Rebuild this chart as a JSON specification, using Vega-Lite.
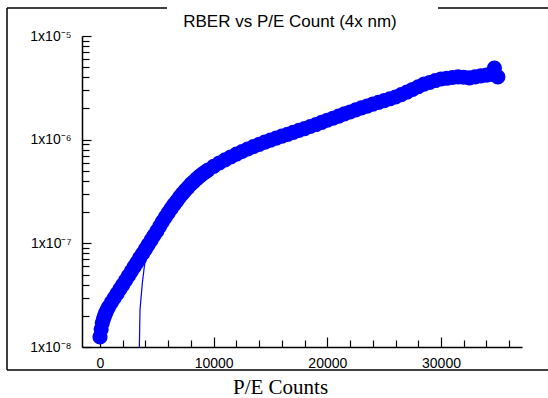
{
  "$schema": "https://vega.github.io/schema/vega-lite/v6.json",
  "autosize": {"type": "none"},
  "padding": {"left": 82, "top": 36, "right": 26, "bottom": 51},
  "width": 440,
  "height": 311,
  "background": "white",
  "config": {"view": {"stroke": null}},
  "title": {
    "text": "RBER vs P/E Count (4x nm)",
    "font": "Liberation Sans",
    "fontSize": 17,
    "fontWeight": "normal",
    "color": "black",
    "anchor": "middle",
    "frame": "group",
    "baseline": "alphabetic",
    "offset": -37,
    "dx": -12
  },
  "resolve": {"axis": {"x": "independent", "y": "independent"}},
  "datasets": {
    "rber": [
      {"cycles": 0, "rber": 1.25e-8},
      {"cycles": 100, "rber": 1.48e-8},
      {"cycles": 200, "rber": 1.70e-8},
      {"cycles": 300, "rber": 1.86e-8},
      {"cycles": 400, "rber": 2.00e-8},
      {"cycles": 500, "rber": 2.14e-8},
      {"cycles": 600, "rber": 2.26e-8},
      {"cycles": 750, "rber": 2.43e-8},
      {"cycles": 1000, "rber": 2.69e-8},
      {"cycles": 1250, "rber": 2.97e-8},
      {"cycles": 1500, "rber": 3.27e-8},
      {"cycles": 1750, "rber": 3.61e-8},
      {"cycles": 2000, "rber": 3.98e-8},
      {"cycles": 2250, "rber": 4.40e-8},
      {"cycles": 2500, "rber": 4.85e-8},
      {"cycles": 2750, "rber": 5.36e-8},
      {"cycles": 3000, "rber": 5.92e-8},
      {"cycles": 3250, "rber": 6.53e-8},
      {"cycles": 3500, "rber": 7.23e-8},
      {"cycles": 3750, "rber": 7.98e-8},
      {"cycles": 4000, "rber": 8.81e-8},
      {"cycles": 4250, "rber": 9.73e-8},
      {"cycles": 4500, "rber": 1.076e-7},
      {"cycles": 4750, "rber": 1.19e-7},
      {"cycles": 5000, "rber": 1.31e-7},
      {"cycles": 5250, "rber": 1.46e-7},
      {"cycles": 5500, "rber": 1.62e-7},
      {"cycles": 5750, "rber": 1.79e-7},
      {"cycles": 6000, "rber": 1.97e-7},
      {"cycles": 6250, "rber": 2.16e-7},
      {"cycles": 6500, "rber": 2.36e-7},
      {"cycles": 6750, "rber": 2.56e-7},
      {"cycles": 7000, "rber": 2.79e-7},
      {"cycles": 7250, "rber": 3.01e-7},
      {"cycles": 7500, "rber": 3.24e-7},
      {"cycles": 7750, "rber": 3.47e-7},
      {"cycles": 8000, "rber": 3.72e-7},
      {"cycles": 8250, "rber": 3.94e-7},
      {"cycles": 8500, "rber": 4.19e-7},
      {"cycles": 8750, "rber": 4.42e-7},
      {"cycles": 9000, "rber": 4.65e-7},
      {"cycles": 9250, "rber": 4.86e-7},
      {"cycles": 9500, "rber": 5.08e-7},
      {"cycles": 10000, "rber": 5.52e-7},
      {"cycles": 10500, "rber": 5.96e-7},
      {"cycles": 11000, "rber": 6.38e-7},
      {"cycles": 11500, "rber": 6.81e-7},
      {"cycles": 12000, "rber": 7.24e-7},
      {"cycles": 12500, "rber": 7.69e-7},
      {"cycles": 13000, "rber": 8.13e-7},
      {"cycles": 13500, "rber": 8.57e-7},
      {"cycles": 14000, "rber": 9.02e-7},
      {"cycles": 14500, "rber": 9.46e-7},
      {"cycles": 15000, "rber": 9.91e-7},
      {"cycles": 15500, "rber": 1.035e-6},
      {"cycles": 16000, "rber": 1.08e-6},
      {"cycles": 16500, "rber": 1.125e-6},
      {"cycles": 17000, "rber": 1.175e-6},
      {"cycles": 17500, "rber": 1.227e-6},
      {"cycles": 18000, "rber": 1.28e-6},
      {"cycles": 18500, "rber": 1.34e-6},
      {"cycles": 19000, "rber": 1.40e-6},
      {"cycles": 19500, "rber": 1.47e-6},
      {"cycles": 20000, "rber": 1.54e-6},
      {"cycles": 20500, "rber": 1.61e-6},
      {"cycles": 21000, "rber": 1.69e-6},
      {"cycles": 21500, "rber": 1.77e-6},
      {"cycles": 22000, "rber": 1.85e-6},
      {"cycles": 22500, "rber": 1.94e-6},
      {"cycles": 23000, "rber": 2.03e-6},
      {"cycles": 23500, "rber": 2.11e-6},
      {"cycles": 24000, "rber": 2.20e-6},
      {"cycles": 24500, "rber": 2.29e-6},
      {"cycles": 25000, "rber": 2.38e-6},
      {"cycles": 25500, "rber": 2.48e-6},
      {"cycles": 26000, "rber": 2.58e-6},
      {"cycles": 26500, "rber": 2.72e-6},
      {"cycles": 27000, "rber": 2.88e-6},
      {"cycles": 27500, "rber": 3.05e-6},
      {"cycles": 28000, "rber": 3.24e-6},
      {"cycles": 28500, "rber": 3.43e-6},
      {"cycles": 29000, "rber": 3.56e-6},
      {"cycles": 29500, "rber": 3.72e-6},
      {"cycles": 30000, "rber": 3.85e-6},
      {"cycles": 30500, "rber": 3.91e-6},
      {"cycles": 31000, "rber": 3.98e-6},
      {"cycles": 31500, "rber": 4.03e-6},
      {"cycles": 32000, "rber": 4.00e-6},
      {"cycles": 32500, "rber": 3.94e-6},
      {"cycles": 33000, "rber": 4.03e-6},
      {"cycles": 33500, "rber": 4.12e-6},
      {"cycles": 34000, "rber": 4.19e-6},
      {"cycles": 34500, "rber": 4.27e-6},
      {"cycles": 34700, "rber": 4.90e-6},
      {"cycles": 35000, "rber": 4.03e-6}
    ],
    "fit": [
      {"cycles": 3452, "rber": 1e-10},
      {"cycles": 3462, "rber": 1.0e-8},
      {"cycles": 3490, "rber": 1.5e-8},
      {"cycles": 3519, "rber": 2.28e-8},
      {"cycles": 3722, "rber": 4.12e-8},
      {"cycles": 3898, "rber": 5.96e-8},
      {"cycles": 4109, "rber": 8.02e-8},
      {"cycles": 4400, "rber": 9.6e-8},
      {"cycles": 4800, "rber": 1.2e-7},
      {"cycles": 5500, "rber": 1.6e-7},
      {"cycles": 6500, "rber": 2.35e-7}
    ],
    "one": [{}]
  },
  "layer": [
    {
      "data": {"name": "fit"},
      "mark": {"type": "line", "color": "#0000ff", "strokeWidth": 1.2, "clip": true},
      "encoding": {
        "x": {"field": "cycles", "type": "quantitative", "axis": null},
        "y": {"field": "rber", "type": "quantitative", "axis": null}
      }
    },
    {
      "data": {"name": "rber"},
      "mark": {"type": "circle", "size": 230, "color": "#0000ff", "opacity": 1},
      "encoding": {
        "x": {
          "field": "cycles",
          "type": "quantitative",
          "scale": {"type": "linear", "domain": [-1584, 37126], "nice": false, "zero": false},
          "axis": {
            "values": [0, 2000, 4000, 6000, 8000, 10000, 12000, 14000, 16000, 18000, 20000, 22000, 24000, 26000, 28000, 30000, 32000, 34000, 36000],
            "format": "d",
            "labelExpr": "datum.value % 10000 === 0 ? datum.label : ''",
            "tickSize": {"condition": {"test": "datum.value % 10000 === 0", "value": -10}, "value": -7},
            "grid": false,
            "domainColor": "black",
            "domainWidth": 1.5,
            "tickColor": "black",
            "tickWidth": 1.2,
            "labelFont": "Liberation Sans",
            "labelFontSize": 14,
            "labelColor": "black",
            "labelPadding": 19,
            "labelOverlap": false,
            "labelFlush": false,
            "title": "P/E Counts",
            "titleFont": "Liberation Serif",
            "titleFontSize": 21,
            "titleFontWeight": "normal",
            "titleColor": "black",
            "titleX": 198,
            "titleY": 46,
            "titleBaseline": "alphabetic",
            "titleAlign": "center"
          }
        },
        "y": {
          "field": "rber",
          "type": "quantitative",
          "scale": {"type": "log", "domain": [1e-8, 1e-5], "nice": false},
          "axis": {
            "values": [1e-8, 2e-8, 3e-8, 4e-8, 5e-8, 6e-8, 7e-8, 8e-8, 9e-8, 1e-7, 2e-7, 3e-7, 4e-7, 5e-7, 6e-7, 7e-7, 8e-7, 9e-7, 1e-6, 2e-6, 3e-6, 4e-6, 5e-6, 6e-6, 7e-6, 8e-6, 9e-6, 1e-5],
            "labelExpr": "abs(log(datum.value)/LN10 - round(log(datum.value)/LN10)) < 0.001 ? ('1x10⁻' + (round(log(datum.value)/LN10) == -5 ? '⁵' : round(log(datum.value)/LN10) == -6 ? '⁶' : round(log(datum.value)/LN10) == -7 ? '⁷' : '⁸')) : ''",
            "tickSize": {"condition": {"test": "abs(log(datum.value)/LN10 - round(log(datum.value)/LN10)) < 0.001", "value": -9}, "value": -7},
            "grid": false,
            "domainColor": "black",
            "domainWidth": 1.5,
            "tickColor": "black",
            "tickWidth": 1.2,
            "labelFont": "Liberation Sans",
            "labelFontSize": 14,
            "labelColor": "black",
            "labelPadding": 20,
            "labelOverlap": false,
            "labelFlush": false,
            "labelBaseline": "middle",
            "title": null
          }
        }
      }
    },
    {
      "data": {"name": "one"},
      "mark": {"type": "rule", "stroke": "black", "strokeWidth": 1.5},
      "encoding": {
        "x": {"datum": -8182, "type": "quantitative", "axis": null},
        "y": {"datum": 1.862e-5, "type": "quantitative", "axis": null},
        "y2": {"datum": 5.998e-9}
      }
    },
    {
      "data": {"name": "one"},
      "mark": {"type": "rule", "stroke": "black", "strokeWidth": 1.5},
      "encoding": {
        "x": {"datum": -8182, "type": "quantitative", "axis": null},
        "x2": {"datum": 42000},
        "y": {"datum": 5.998e-9, "type": "quantitative", "axis": null}
      }
    },
    {
      "data": {"name": "one"},
      "mark": {"type": "rule", "stroke": "black", "strokeWidth": 1.5},
      "encoding": {
        "x": {"datum": -8182, "type": "quantitative", "axis": null},
        "x2": {"datum": 5895},
        "y": {"datum": 1.862e-5, "type": "quantitative", "axis": null}
      }
    },
    {
      "data": {"name": "one"},
      "mark": {"type": "rule", "stroke": "black", "strokeWidth": 1.5},
      "encoding": {
        "x": {"datum": 29737, "type": "quantitative", "axis": null},
        "x2": {"datum": 42000},
        "y": {"datum": 1.862e-5, "type": "quantitative", "axis": null}
      }
    }
  ]
}
